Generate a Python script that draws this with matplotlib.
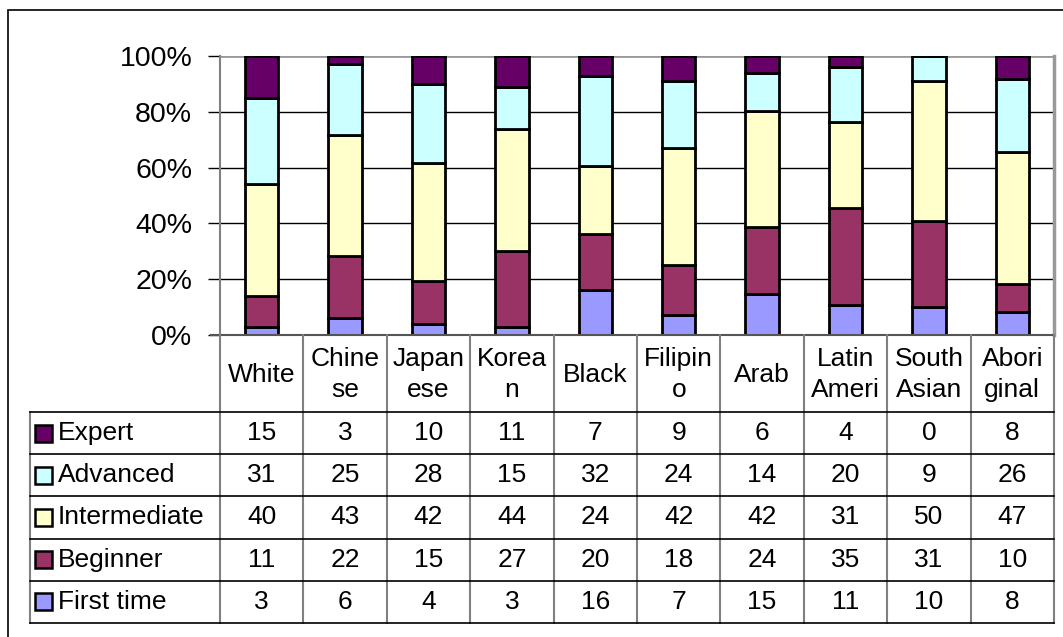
import numpy as np
import matplotlib.pyplot as plt
from matplotlib.lines import Line2D
from matplotlib.patches import Rectangle
import matplotlib.transforms as mtransforms

plt.rcParams['font.family'] = ['Liberation Sans', 'DejaVu Sans']

groups = ["White", "Chine\nse", "Japan\nese", "Korea\nn", "Black", "Filipin\no",
          "Arab", "Latin\nAmeri", "South\nAsian", "Abori\nginal"]
levels = ["Expert", "Advanced", "Intermediate", "Beginner", "First time"]
first_time = [3, 6, 4, 3, 16, 7, 15, 11, 10, 8]
beginner = [11, 22, 15, 27, 20, 18, 24, 35, 31, 10]
intermediate = [40, 43, 42, 44, 24, 42, 42, 31, 50, 47]
advanced = [31, 25, 28, 15, 32, 24, 14, 20, 9, 26]
expert = [15, 3, 10, 11, 7, 9, 6, 4, 0, 8]
colors = {"Expert": "#660066", "Advanced": "#CCFFFF", "Intermediate": "#FFFFCC",
          "Beginner": "#993366", "First time": "#9999FF"}

W, H = 1063, 637
fig = plt.figure(figsize=(W / 100, H / 100), dpi=100)

def fx(px):
    return px / W

def fy(py):
    return 1 - py / H

# plot area in pixel coordinates
left, right, top, bottom = 220, 1054, 56, 335
ax = fig.add_axes([fx(left), fy(bottom), fx(right - left), fy(top) - fy(bottom)])

series = {"First time": first_time, "Beginner": beginner, "Intermediate": intermediate,
          "Advanced": advanced, "Expert": expert}
totals = np.sum([np.array(v) for v in series.values()], axis=0)
x = np.arange(len(groups))
base = np.zeros(len(groups))
for name, vals in series.items():
    pct = np.array(vals) / totals * 100
    ax.bar(x, pct, 0.4, bottom=base, color=colors[name], edgecolor="black",
           linewidth=2, zorder=3)
    base += pct

ax.set_xlim(-0.5, len(groups) - 0.5)
ax.set_ylim(0, 100)
ax.set_yticks(np.arange(0, 101, 20))
ax.set_yticklabels([f"{v}%" for v in range(0, 101, 20)], fontsize=20.5)
ax.tick_params(axis="y", length=9, width=1, color="black", pad=11)
ax.tick_params(axis="x", length=0, labelbottom=False)
for yv in (20, 40, 60, 80):
    ax.axhline(yv, color="black", linewidth=1, zorder=1)
ax.axhline(100, color="#999999", linewidth=2, zorder=1)
for side in ("top", "bottom"):
    ax.spines[side].set_visible(False)
ax.spines["left"].set_color("#808080")
ax.spines["left"].set_linewidth(1.5)
ax.spines["right"].set_color("#999999")
ax.spines["right"].set_linewidth(2.5)

# data table underneath the chart
trans = mtransforms.blended_transform_factory(ax.transData, fig.transFigure)
header_bottom = 412
row_h = 42.2
table_left = 30
table_bottom = header_bottom + row_h * len(levels)
fs = 19

fig.add_artist(Line2D([fx(left - 9), fx(right)], [fy(bottom)] * 2, color="#555555", lw=1.5))
for i in range(len(groups) + 1):
    fig.add_artist(Line2D([i - 0.5, i - 0.5], [fy(bottom), fy(table_bottom)],
                          transform=trans, color="#808080", lw=1.5))
fig.add_artist(Line2D([fx(table_left)] * 2, [fy(header_bottom), fy(table_bottom)],
                      color="#808080", lw=1.5))
for r in range(len(levels) + 1):
    yy = fy(header_bottom + r * row_h)
    fig.add_artist(Line2D([fx(table_left), fx(right)], [yy, yy], color="black", lw=1.2))

for i, g in enumerate(groups):
    fig.text(i, fy((bottom + header_bottom) / 2 + 1), g, transform=trans, ha="center",
             va="center", fontsize=fs, linespacing=1.35)

for r, name in enumerate(levels):
    yc = fy(header_bottom + (r + 0.5) * row_h)
    fig.add_artist(Rectangle((fx(35), yc - 8.5 / H), 17 / W, 17 / H,
                             facecolor=colors[name], edgecolor="black", lw=1.8))
    fig.text(fx(58), yc, name, ha="left", va="center", fontsize=fs)
    for i, v in enumerate(series[name]):
        fig.text(i, yc, str(v), transform=trans, ha="center", va="center", fontsize=fs)

# outer chart border
fig.add_artist(Rectangle((fx(8), fy(660)), fx(1080 - 8), fy(10) - fy(660),
                         facecolor="none", edgecolor="black", lw=1.2))

fig.savefig("out.png", dpi=100)
